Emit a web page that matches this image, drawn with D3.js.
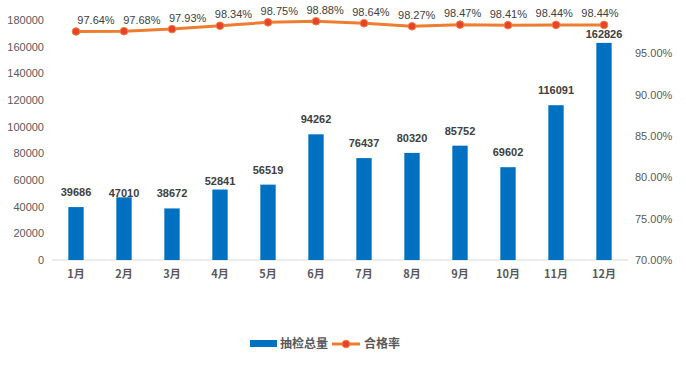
<!DOCTYPE html>
<html>
<head>
<meta charset="utf-8">
<script src="https://cdn.jsdelivr.net/npm/d3@7"></script>
<style>
  body { margin: 0; background: #fff; }
  text { font-family: "Liberation Sans", "Noto Sans CJK SC", sans-serif; }
</style>
</head>
<body>
<script>
// data
var months = ["1月", "2月", "3月", "4月", "5月", "6月", "7月", "8月", "9月", "10月", "11月", "12月"];
var totals = [39686, 47010, 38672, 52841, 56519, 94262, 76437, 80320, 85752, 69602, 116091, 162826];
var passRates = [0.9764, 0.9768, 0.9793, 0.9834, 0.9875, 0.9888, 0.9864, 0.9827, 0.9847, 0.9841, 0.9844, 0.9844];
var leftTicks = [0, 20000, 40000, 60000, 80000, 100000, 120000, 140000, 160000, 180000];
var rightTicks = [0.70, 0.75, 0.80, 0.85, 0.90, 0.95];
var seriesNames = ["抽检总量", "合格率"];

// bar labels that were dragged down in the original (px)
var barLabelNudge = [0, 11, 0, 6, 0, 0, 0, 0, 0, 0, 0, 6];

var width = 686, height = 370;
var svg = d3.select("body").append("svg")
    .attr("width", width)
    .attr("height", height);

var x = d3.scaleBand().domain(months).range([52, 628]).paddingInner(0.68).paddingOuter(0.34);
var yLeft = d3.scaleLinear().domain([0, 180000]).range([260, 20]);
var yRight = d3.scaleLinear().domain([0.70, 1.00]).range([260, 12]);
// rate labels are spread a bit tighter than the points
var xLabel = d3.scalePoint().domain(months).range([96, 600]);

// left axis
var leftAxis = svg.append("g")
    .attr("transform", "translate(44,0)")
    .call(d3.axisLeft(yLeft).tickValues(leftTicks).tickSize(0).tickPadding(0).tickFormat(d3.format("d")));
leftAxis.select(".domain").remove();
leftAxis.selectAll("text").attr("fill", "#595959").style("font-size", "11px");

// right axis
var rightAxis = svg.append("g")
    .attr("transform", "translate(635,0)")
    .call(d3.axisRight(yRight).tickValues(rightTicks).tickSize(0).tickPadding(0).tickFormat(d3.format(".2%")));
rightAxis.select(".domain").remove();
rightAxis.selectAll("text").attr("fill", "#595959").style("font-size", "11px");

// baseline
svg.append("line")
    .attr("x1", 52).attr("x2", 628)
    .attr("y1", yLeft(0)).attr("y2", yLeft(0))
    .attr("stroke", "#D9D9D9").attr("stroke-width", 1);

// month labels
var xAxis = svg.append("g")
    .attr("transform", "translate(0," + yLeft(0) + ")")
    .call(d3.axisBottom(x).tickSize(0).tickPadding(10));
xAxis.select(".domain").remove();
xAxis.selectAll("text").attr("fill", "#595959").style("font-size", "11px").style("font-weight", "bold")
    .style("font-family", "'Noto Sans CJK SC', sans-serif");

// bars
svg.selectAll("rect.bar")
    .data(totals)
    .enter().append("rect")
    .attr("class", "bar")
    .attr("x", function(d, i) { return x(months[i]); })
    .attr("width", x.bandwidth())
    .attr("y", function(d) { return yLeft(d); })
    .attr("height", function(d) { return yLeft(0) - yLeft(d); })
    .attr("fill", "#0070C0");

svg.selectAll("text.barlbl")
    .data(totals)
    .enter().append("text")
    .attr("class", "barlbl")
    .attr("x", function(d, i) { return x(months[i]) + x.bandwidth() / 2; })
    .attr("y", function(d, i) { return yLeft(d) - 11 + barLabelNudge[i]; })
    .attr("text-anchor", "middle")
    .attr("fill", "#404040")
    .style("font-size", "11px")
    .style("font-weight", "bold")
    .text(function(d) { return d; });

// line
var cx = function(d, i) { return x(months[i]) + x.bandwidth() / 2; };
var line = d3.line()
    .x(cx)
    .y(function(d) { return yRight(d); });

svg.append("path")
    .datum(passRates)
    .attr("d", line)
    .attr("fill", "none")
    .attr("stroke", "#ED7D31")
    .attr("stroke-width", 3);

svg.selectAll("circle.pt")
    .data(passRates)
    .enter().append("circle")
    .attr("class", "pt")
    .attr("cx", cx)
    .attr("cy", function(d) { return yRight(d); })
    .attr("r", 3.8)
    .attr("fill", "#E8412C")
    .attr("stroke", "#F0803A")
    .attr("stroke-width", 1);

svg.selectAll("text.ptlbl")
    .data(passRates)
    .enter().append("text")
    .attr("class", "ptlbl")
    .attr("x", function(d, i) { return xLabel(months[i]); })
    .attr("y", function(d) { return yRight(d) - 7.5; })
    .attr("text-anchor", "middle")
    .attr("fill", "#404040")
    .style("font-size", "11px")
    .text(function(d) { return d3.format(".2%")(d); });

// legend
var legend = svg.append("g");
legend.append("rect")
    .attr("x", 250).attr("y", 340)
    .attr("width", 27).attr("height", 7)
    .attr("fill", "#0070C0");
legend.append("text")
    .attr("x", 280).attr("y", 348)
    .attr("fill", "#595959")
    .style("font-size", "12px").style("font-weight", "bold")
    .style("font-family", "'Noto Sans CJK SC', sans-serif")
    .text(seriesNames[0]);
legend.append("line")
    .attr("x1", 332).attr("x2", 360)
    .attr("y1", 344).attr("y2", 344)
    .attr("stroke", "#ED7D31").attr("stroke-width", 3);
legend.append("circle")
    .attr("cx", 346).attr("cy", 344).attr("r", 3.8)
    .attr("fill", "#E8412C").attr("stroke", "#F0803A");
legend.append("text")
    .attr("x", 364).attr("y", 348)
    .attr("fill", "#595959")
    .style("font-size", "12px").style("font-weight", "bold")
    .style("font-family", "'Noto Sans CJK SC', sans-serif")
    .text(seriesNames[1]);
</script>
</body>
</html>
